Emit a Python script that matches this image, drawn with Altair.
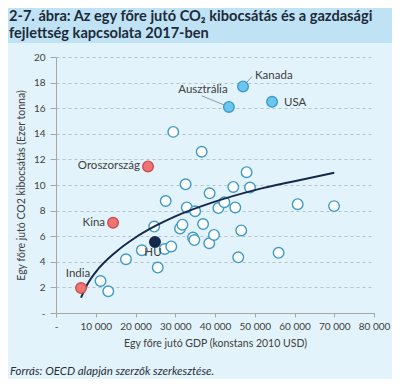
import altair as alt
import pandas as pd

# ---- data ----
open_gdp = [11200, 13150, 17600, 21600, 24700, 25600, 27350, 29000, 27600, 32600,
            32900, 35000, 31200, 31800, 37000, 34450, 34800, 38650, 38550, 39750,
            40850, 44600, 48800, 42350, 45100, 46600, 45850, 56000, 60800, 69950,
            29500, 36650, 47950]
open_co2 = [2.5, 1.7, 4.2, 4.9, 6.75, 3.55, 5.0, 5.2, 8.75, 10.05,
            8.25, 7.95, 6.6, 6.9, 6.95, 5.9, 5.7, 9.35, 5.45, 6.1,
            8.2, 9.85, 9.8, 8.65, 8.25, 6.45, 4.35, 4.7, 8.5, 8.35,
            14.15, 12.6, 11.0]

named_countries = ["Kanada", "Ausztrália", "USA", "Oroszország", "Kina", "India", "HU"]
named_gdp = [47050, 43500, 54350, 23150, 14350, 6300, 24900]
named_co2 = [17.7, 16.1, 16.5, 11.45, 7.05, 1.95, 5.55]
named_group = ["fejlett", "fejlett", "fejlett", "feltörekvő", "feltörekvő", "feltörekvő", "HU"]

trend_gdp = [6300, 8000, 10000, 15000, 20000, 25000, 30000, 40000, 50000, 60000, 70000]
trend_co2 = [1.2, 2.3, 3.2, 4.75, 5.9, 6.8, 7.55, 8.7, 9.6, 10.3, 10.95]

x_ticks = [0, 10000, 20000, 30000, 40000, 50000, 60000, 70000, 80000]
y_ticks = [0, 2, 4, 6, 8, 10, 12, 14, 16, 18, 20]

title_lines = ["2-7. ábra: Az egy főre jutó CO\u2082 kibocsátás és a gazdasági",
               "fejlettség kapcsolata 2017-ben"]
source_text = "Forrás: OECD alapján szerzők szerkesztése."
x_title = "Egy főre jutó GDP (konstans 2010 USD)"
y_title = "Egy főre jutó CO2 kibocsátás (Ezer tonna)"

# ---- styles ----
FONT = "Lato"
BG = "#e3f3fb"
BAND = "#bfe3f5"
TXT = "#404040"
NAVY = "#14284c"
W, H = 318, 256

label_style = {
    "Kanada": dict(align="left", dx=12, dy=-10),
    "Ausztrália": dict(align="center", dx=-26, dy=-17),
    "USA": dict(align="left", dx=12, dy=1),
    "Oroszország": dict(align="right", dx=-8, dy=0),
    "Kina": dict(align="right", dx=-8, dy=0),
    "India": dict(align="center", dx=-3, dy=-14),
    "HU": dict(align="center", dx=-2, dy=11),
}
# leader line end offsets in pixels from the point
leader_px = {"Kanada": (9, -10), "Ausztrália": (-27, -11)}

df_open = pd.DataFrame({"gdp": open_gdp, "co2": open_co2})
df_named = pd.DataFrame({"country": named_countries, "gdp": named_gdp,
                         "co2": named_co2, "group": named_group})
df_trend = pd.DataFrame({"gdp": trend_gdp, "co2": trend_co2})

xscale = alt.Scale(domain=[0, 80000], nice=False, zero=True)
yscale = alt.Scale(domain=[0, 20], nice=False)

x_axis = alt.Axis(values=x_ticks, grid=False, title=x_title, labelOverlap=False,
                  labelExpr="datum.value == 0 ? '-' : replace(format(datum.value, ','), ',', ' ')",
                  labelFont=FONT, labelFontSize=10, labelColor=TXT, labelPadding=4,
                  tickSize=4, tickColor="#a6a6a6", domainColor="#a6a6a6",
                  titleFont=FONT, titleFontSize=10.5, titleFontWeight="normal",
                  titleColor=TXT, titleY=25, titleBaseline="top")
y_axis = alt.Axis(values=y_ticks, grid=True, gridDash=[3, 3], gridColor="#b4c2cb",
                  title=y_title, labelOverlap=False,
                  labelExpr="datum.value == 0 ? '-' : format(datum.value, 'd')",
                  labelFont=FONT, labelFontSize=10, labelColor=TXT, labelPadding=5,
                  tickSize=6, tickColor="#a6a6a6", domainColor="#a6a6a6",
                  titleFont=FONT, titleFontSize=10.5, titleFontWeight="normal",
                  titleColor=TXT, titleX=-35, titleY=H / 2, titleAngle=-90,
                  titleAlign="center", titleBaseline="middle")

one = pd.DataFrame({"a": [0]})

band = alt.Chart(one).mark_rect(color=BAND).encode(
    x=alt.value(-48), x2=alt.value(W + 18), y=alt.value(-49), y2=alt.value(-14))

title1 = alt.Chart(one).mark_text(text=title_lines[0], font=FONT, fontSize=14.6,
                                  fontWeight="bold", color="#1e2a38", align="left",
                                  baseline="alphabetic").encode(
    x=alt.value(-47), y=alt.value(-36))
title2 = alt.Chart(one).mark_text(text=title_lines[1], font=FONT, fontSize=14.6,
                                  fontWeight="bold", color="#1e2a38", align="left",
                                  baseline="alphabetic").encode(
    x=alt.value(-47), y=alt.value(-19))
source = alt.Chart(one).mark_text(text=source_text, font=FONT, fontSize=11.5,
                                  fontStyle="italic", color="#2a2f3a", align="left",
                                  baseline="alphabetic").encode(
    x=alt.value(-46), y=alt.value(318))

X = lambda: alt.X("gdp:Q", scale=xscale, axis=x_axis)
Y = lambda: alt.Y("co2:Q", scale=yscale, axis=y_axis)

open_pts = alt.Chart(df_open).mark_point(
    shape="circle", filled=True, fill="white", stroke="#3c9ac8",
    strokeWidth=1.4, size=112, opacity=1).encode(x=X(), y=Y())

trend = alt.Chart(df_trend).mark_line(color=NAVY, strokeWidth=2,
                                      interpolate="monotone").encode(x=X(), y=Y())

# leader lines
lead_rows = []
for c, (px, py) in leader_px.items():
    i = named_countries.index(c)
    lead_rows.append({"gdp": named_gdp[i], "co2": named_co2[i],
                      "gdp2": named_gdp[i] + px / W * 80000,
                      "co22": named_co2[i] - py / H * 20})
df_lead = pd.DataFrame(lead_rows)
leaders = alt.Chart(df_lead).mark_rule(color="#8c9aa3", strokeWidth=1).encode(
    x=X(), y=Y(), x2="gdp2:Q", y2="co22:Q")

named_pts = alt.Chart(df_named).mark_point(
    shape="circle", filled=True, strokeWidth=1.4, size=112, opacity=1).encode(
    x=X(), y=Y(),
    fill=alt.Fill("group:N", legend=None,
                  scale=alt.Scale(domain=["fejlett", "feltörekvő", "HU"],
                                  range=["#6cc7ef", "#f07474", NAVY])),
    stroke=alt.Stroke("group:N", legend=None,
                      scale=alt.Scale(domain=["fejlett", "feltörekvő", "HU"],
                                      range=["#3c9ac8", "#c85050", NAVY])))

labels = []
for c, st in label_style.items():
    labels.append(alt.Chart(df_named[df_named.country == c]).mark_text(
        font=FONT, fontSize=11.5, color=TXT, baseline="middle", **st).encode(
        x=X(), y=Y(), text="country:N"))

chart = alt.layer(band, title1, title2, source, open_pts, trend, leaders,
                  named_pts, *labels).properties(
    width=W, height=H,
    autosize=alt.AutoSizeParams(type="none"),
    padding={"left": 48, "top": 49, "right": 18, "bottom": 66},
    background=BG,
).configure_view(stroke=None).configure_axis(labelOverlap=False, labelBound=False,
                                              labelFlush=False)

chart.save("out.html", embed_options={"renderer": "svg", "actions": False})
